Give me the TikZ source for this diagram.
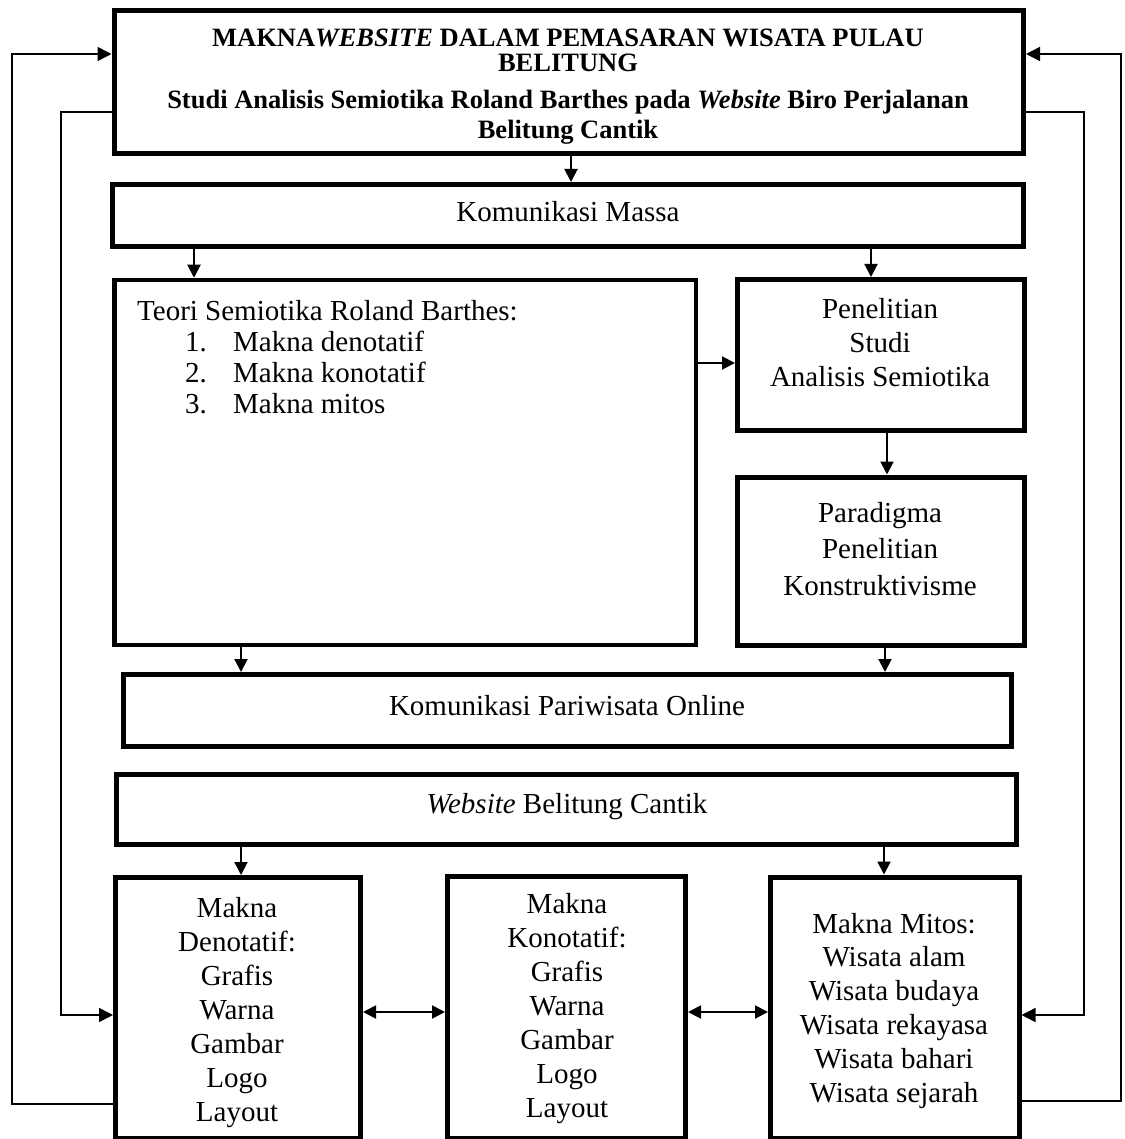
\documentclass[tikz,border=0pt]{standalone}
\usepackage{fontspec}
\setmainfont{Liberation Serif}
\usetikzlibrary{arrows.meta,calc}
\tikzset{
  box/.style={draw=black, line width=5pt, rectangle, inner sep=0pt, fill=none},
  txt/.style={inner sep=0pt, font=\fontsize{29}{34}\selectfont, anchor=base},
  ttl/.style={inner sep=0pt, font=\bfseries\fontsize{26.5}{30}\selectfont, anchor=base},
  arr/.style={line width=2pt, -{Triangle[length=13pt,width=13pt]}},
  darr/.style={line width=2pt, {Triangle[length=13pt,width=13pt]}-{Triangle[length=13pt,width=13pt]}},
  fb/.style={line width=1.5pt, -{Triangle[length=14pt,width=14pt]}},
}
\newcommand{\linestack}[5]{%
  \foreach \t [count=\i] in {#5}
    \node[txt] (#4\i) at (#1,{#2+(\i-1)*#3}) {\t};}
\begin{document}
\begin{tikzpicture}[x=1pt,y=-1pt]
\useasboundingbox (0,0) rectangle (1124,1139);
% boxes
\node[box, minimum width=909.5pt, minimum height=143.5pt] (top) at (568.75,82.25) {};
\node[box, minimum width=911pt, minimum height=62.5pt] (kmassa) at (568,215.75) {};
\node[box, minimum width=581.5pt, minimum height=365pt, line width=4.5pt] (teori) at (405.25,462.5) {};
\node[box, minimum width=287pt, minimum height=151pt] (penel) at (881,355) {};
\node[box, minimum width=287.5pt, minimum height=168.5pt] (para) at (880.75,561.25) {};
\node[box, minimum width=888.5pt, minimum height=71.5pt] (kpar) at (567.25,710.25) {};
\node[box, minimum width=900pt, minimum height=70pt] (web) at (566.5,809) {};
\node[box, minimum width=245pt, minimum height=260.5pt] (den) at (238,1007.75) {};
\node[box, minimum width=238pt, minimum height=262pt] (kon) at (566.5,1007) {};
\node[box, minimum width=248.5pt, minimum height=261pt] (mit) at (894.75,1007.5) {};
% title text
\node[ttl] (t1) at (568,47) {MAKNA\textit{WEBSITE} DALAM PEMASARAN WISATA PULAU};
\node[ttl] (t2) at (568,72) {BELITUNG};
\node[ttl] (t3) at (568,109) {Studi Analisis Semiotika Roland Barthes pada \textit{Website} Biro Perjalanan};
\node[ttl] (t4) at (568,139) {Belitung Cantik};
% single line texts
\node[txt] (km) at (568,222) {Komunikasi Massa};
\node[txt] (kp) at (567,715) {Komunikasi Pariwisata Online};
\node[txt] (wb) at (567,813) {\textit{Website} Belitung Cantik};
% teori
\node[txt, anchor=base west] (te0) at (137,320) {Teori Semiotika Roland Barthes:};
\node[txt, anchor=base west] (n1) at (185,351) {1.};
\node[txt, anchor=base west] (n2) at (185,382) {2.};
\node[txt, anchor=base west] (n3) at (185,413) {3.};
\node[txt, anchor=base west] (m1) at (233,351) {Makna denotatif};
\node[txt, anchor=base west] (m2) at (233,382) {Makna konotatif};
\node[txt, anchor=base west] (m3) at (233,413) {Makna mitos};
% stacks
\linestack{880}{318}{34}{pe}{Penelitian,Studi,Analisis Semiotika}
\linestack{880}{522}{36.5}{pa}{Paradigma,Penelitian,Konstruktivisme}
\linestack{237}{917}{34}{de}{Makna,Denotatif:,Grafis,Warna,Gambar,Logo,Layout}
\linestack{567}{913}{34}{ko}{Makna,Konotatif:,Grafis,Warna,Gambar,Logo,Layout}
\linestack{894}{933}{33.8}{mi}{Makna Mitos:,Wisata alam,Wisata budaya,Wisata rekayasa,Wisata bahari,Wisata sejarah}
% connectors
\draw[arr] (571,0 |- top.south) -- (571,0 |- kmassa.north);
\draw[arr] (194,0 |- kmassa.south) -- (194,0 |- teori.north);
\draw[arr] (871,0 |- kmassa.south) -- (871,0 |- penel.north);
\draw[arr] (teori.east |- 0,363) -- (penel.west |- 0,363);
\draw[arr] (887,0 |- penel.south) -- (887,0 |- para.north);
\draw[arr] (241,0 |- teori.south) -- (241,0 |- kpar.north);
\draw[arr] (885,0 |- para.south) -- (885,0 |- kpar.north);
\draw[arr] (241,0 |- web.south) -- (241,0 |- den.north);
\draw[arr] (884,0 |- web.south) -- (884,0 |- mit.north);
\draw[darr] (den.east |- 0,1012) -- (kon.west |- 0,1012);
\draw[darr] (kon.east |- 0,1012) -- (mit.west |- 0,1012);
% feedback loops
\draw[fb] (den.west |- 0,1104) -- (12,1104) -- (12,54) -- (top.west |- 0,54);
\draw[fb] (top.west |- 0,112) -- (61,112) -- (61,1015) -- (den.west |- 0,1015);
\draw[fb] (mit.east |- 0,1101) -- (1121,1101) -- (1121,54) -- (top.east |- 0,54);
\draw[fb] (top.east |- 0,112) -- (1084,112) -- (1084,1015) -- (mit.east |- 0,1015);
\end{tikzpicture}
\end{document}
